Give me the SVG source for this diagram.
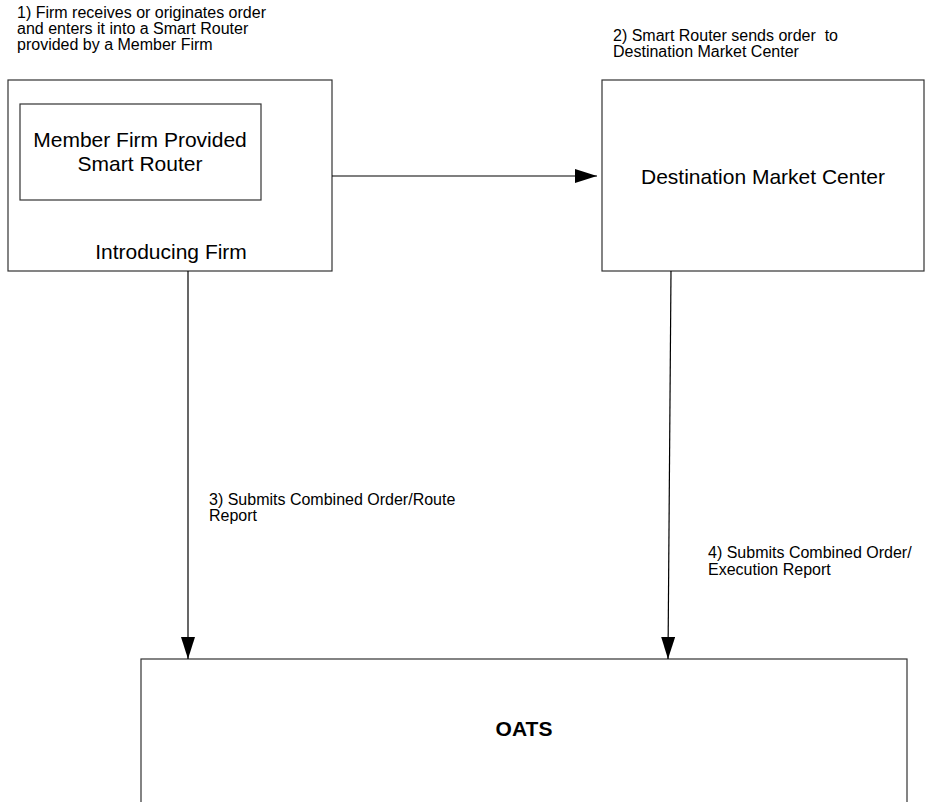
<svg xmlns="http://www.w3.org/2000/svg" width="927" height="802" viewBox="0 0 927 802">
<defs>
<marker id="arr" markerWidth="22" markerHeight="14" refX="22" refY="7" orient="auto" markerUnits="userSpaceOnUse">
<path d="M0,0 L22,7 L0,14 Z" fill="#000"/>
</marker>
<style>
.box{fill:#fff;stroke:#333;stroke-width:1.2}
.t{font-family:"Liberation Sans",Arial,sans-serif;fill:#000}
.big{font-size:21px;text-anchor:middle}
.lbl{font-size:16px}
.conn{stroke:#000;stroke-width:1.2;fill:none}
</style>
</defs>
<rect width="927" height="802" fill="#fff"/>
<g id="introducing-firm">
<rect class="box" x="8" y="80" width="324" height="191"/>
<text class="t big" x="171" y="259">Introducing Firm</text>
</g>
<g id="smart-router">
<rect class="box" x="20" y="104" width="241" height="96"/>
<text class="t big" x="140" y="147">Member Firm Provided</text>
<text class="t big" x="140" y="171">Smart Router</text>
</g>
<g id="destination-market-center">
<rect class="box" x="602" y="80" width="322" height="191"/>
<text class="t big" x="763" y="184">Destination Market Center</text>
</g>
<g id="oats">
<rect class="box" x="141" y="659" width="766" height="200"/>
<text class="t" x="524" y="736" font-size="21" font-weight="bold" text-anchor="middle">OATS</text>
</g>
<g id="labels">
<text class="t lbl" x="17" y="18">1) Firm receives or originates order</text>
<text class="t lbl" x="17" y="34">and enters it into a Smart Router</text>
<text class="t lbl" x="17" y="50">provided by a Member Firm</text>
<text class="t lbl" x="613" y="41" xml:space="preserve">2) Smart Router sends order  to</text>
<text class="t lbl" x="613" y="57">Destination Market Center</text>
<text class="t lbl" x="209" y="505">3) Submits Combined Order/Route</text>
<text class="t lbl" x="209" y="521">Report</text>
<text class="t lbl" x="708" y="558">4) Submits Combined Order/</text>
<text class="t lbl" x="708" y="575">Execution Report</text>
</g>
<g id="connectors">
<line class="conn" x1="332" y1="176" x2="597" y2="176" marker-end="url(#arr)"/>
<line class="conn" x1="188" y1="271" x2="188" y2="659" marker-end="url(#arr)"/>
<line class="conn" x1="671" y1="271" x2="668" y2="659" marker-end="url(#arr)"/>
</g>
</svg>
